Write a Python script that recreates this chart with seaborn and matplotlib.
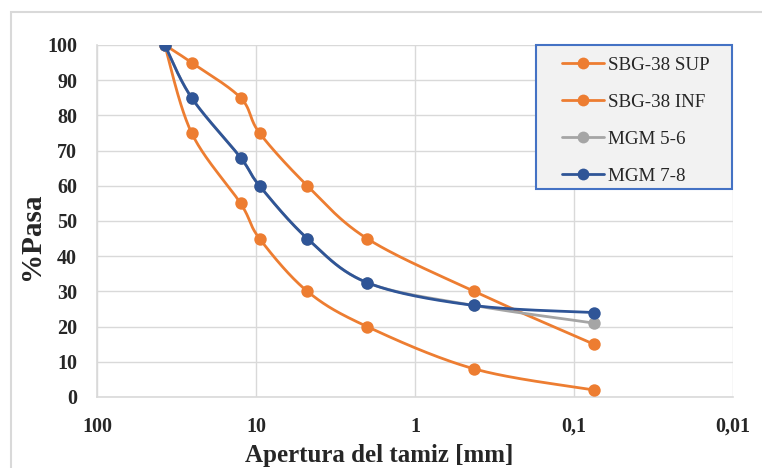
import numpy as np
import pandas as pd
import matplotlib
matplotlib.use("Agg")
import matplotlib.pyplot as plt
import seaborn as sns
from matplotlib.lines import Line2D
from matplotlib.patches import Rectangle

# ---- data ----
sieve_mm = [37.5, 25.4, 12.5, 9.5, 4.75, 2.0, 0.425, 0.075]
sbg38_sup = [100, 95, 85, 75, 60, 45, 30, 15]
sbg38_inf = [100, 75, 55, 45, 30, 20, 8, 2]
mgm_56 = [100, 85, 68, 60, 45, 32.5, 26, 21]
mgm_78 = [100, 85, 68, 60, 45, 32.5, 26, 24]
series_names = ["SBG-38 SUP", "SBG-38 INF", "MGM 5-6", "MGM 7-8"]
series_values = [sbg38_sup, sbg38_inf, mgm_56, mgm_78]
series_colors = ["#ED7D31", "#ED7D31", "#A5A5A5", "#2F5597"]
x_ticks = [100, 10, 1, 0.1, 0.01]
x_ticklabels = ["100", "10", "1", "0,1", "0,01"]
y_ticks = list(range(0, 101, 10))

W, H = 762, 468


def smooth(xs, ys, n=40):
    """Catmull-Rom style smoothing (like Excel smoothed lines) in log-x space."""
    lx = np.log10(np.asarray(xs, float))
    y = np.asarray(ys, float)
    P = np.column_stack([lx, y])
    P = np.vstack([P[0], P, P[-1]])
    out = []
    for i in range(1, len(P) - 2):
        p0, p1, p2, p3 = P[i - 1], P[i], P[i + 1], P[i + 2]
        c1 = p1 + (p2 - p0) / 6.0
        c2 = p2 - (p3 - p1) / 6.0
        t = np.linspace(0, 1, n)[:, None]
        seg = ((1 - t) ** 3) * p1 + 3 * ((1 - t) ** 2) * t * c1 + 3 * (1 - t) * t ** 2 * c2 + t ** 3 * p2
        out.append(seg if i == 1 else seg[1:])
    out = np.vstack(out)
    return 10 ** out[:, 0], out[:, 1]


sns.set_theme(style="white")
plt.rcParams["font.family"] = ["Liberation Serif", "DejaVu Serif"]

fig = plt.figure(figsize=(W / 100, H / 100), dpi=100)
ax = fig.add_axes([97 / W, 1 - 397 / H, (733 - 97) / W, (397 - 45) / H])

for k, (name, vals, col) in enumerate(zip(series_names, series_values, series_colors)):
    sx, sy = smooth(sieve_mm, vals)
    df_s = pd.DataFrame({"x": sx, "y": sy})
    sns.lineplot(data=df_s, x="x", y="y", ax=ax, color=col, lw=2.0,
                 sort=False, estimator=None, zorder=3 + 2 * k)
    df_p = pd.DataFrame({"x": sieve_mm, "y": vals})
    sns.scatterplot(data=df_p, x="x", y="y", ax=ax, color=col, s=80,
                    edgecolor=col, linewidth=0, zorder=4 + 2 * k)

ax.set_xscale("log")
ax.set_xlim(100, 0.01)
ax.set_ylim(0, 100)
ax.set_xticks(x_ticks)
ax.set_xticklabels(x_ticklabels)
ax.minorticks_off()
ax.set_yticks(y_ticks)
ax.grid(True, color="#D9D9D9", lw=1)
for s in ["top", "right"]:
    ax.spines[s].set_visible(False)
for s in ["left", "bottom"]:
    ax.spines[s].set_color("#D9D9D9")
    ax.spines[s].set_linewidth(1.2)
ax.tick_params(axis="both", length=0, labelsize=14.5, pad=14.4)
for lab in ax.get_xticklabels() + ax.get_yticklabels():
    lab.set_fontweight("bold")

ax.set_xlabel("Apertura del tamiz [mm]", fontsize=18, fontweight="bold",
              ha="left", va="baseline")
ax.xaxis.set_label_coords((245 - 97) / 636, (397 - 462) / 352)
ax.set_ylabel("%Pasa", fontsize=21, fontweight="bold", ha="center", va="center")
ax.yaxis.set_label_coords((32 - 97) / 636, (397 - 236) / 352)

# legend box (frame drawn as a patch so that its padding matches the reference)
frame = Rectangle((536 / W, 1 - 189 / H), (732 - 536) / W, (189 - 45) / H,
                  transform=fig.transFigure, facecolor="#F2F2F2",
                  edgecolor="#4472C4", lw=1.5, zorder=19)
ax.add_patch(frame)
frame.set_clip_on(False)

handles = [Line2D([0], [0], color=c, lw=2.0, marker="o", markersize=8.5,
                  markeredgewidth=0) for c in series_colors]
leg = ax.legend(handles, series_names, loc="upper left",
                bbox_to_anchor=(552 / W, 1 - 46 / H), bbox_transform=fig.transFigure,
                borderaxespad=0, frameon=False, fontsize=13.7,
                handlelength=2.2, handletextpad=0.2, labelspacing=1.03,
                borderpad=0.55)
leg.set_zorder(20)

fig.patches.append(Rectangle((11 / W, -0.1), 1.2, (H - 12) / H + 0.1,
                             transform=fig.transFigure, fill=False,
                             edgecolor="#D9D9D9", lw=1.5, zorder=0))

fig.savefig("out.png", dpi=100)
